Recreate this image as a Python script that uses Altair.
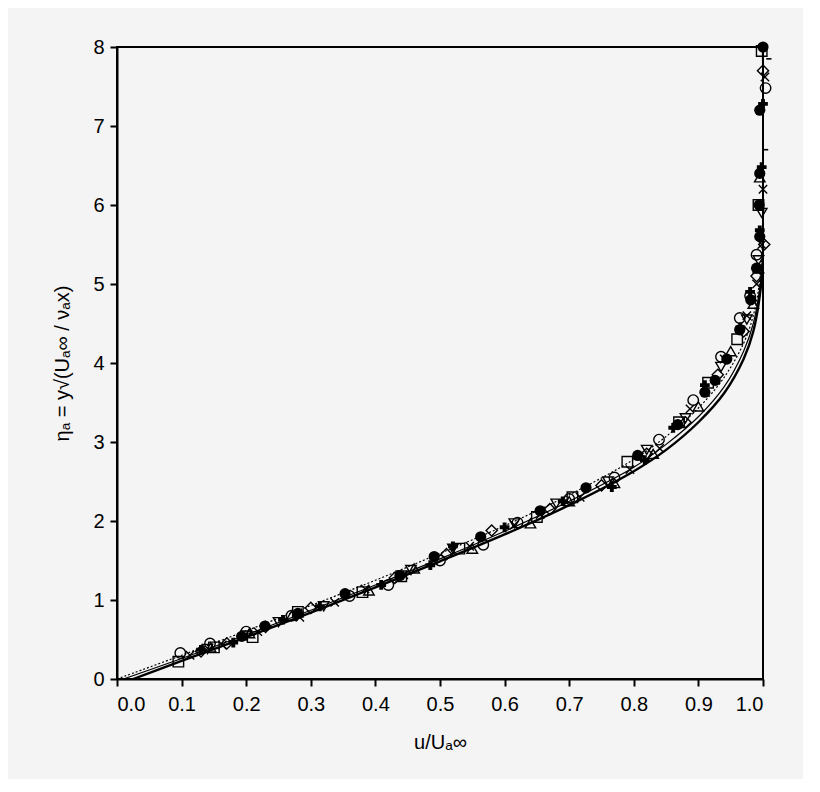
import altair as alt
import pandas as pd

# ---- curves (u/U, eta) ----
thick_u = [0.025, 0.1, 0.2, 0.3, 0.4, 0.5, 0.6, 0.7, 0.8, 0.85, 0.9, 0.94, 0.97, 0.985, 0.995, 1.0, 1.0]
thick_eta = [0, 0.23, 0.53, 0.84, 1.16, 1.49, 1.83, 2.2, 2.63, 2.9, 3.25, 3.62, 4.05, 4.4, 4.85, 5.3, 8.0]
thin_u = [0.01, 0.1, 0.2, 0.3, 0.4, 0.5, 0.6, 0.7, 0.8, 0.85, 0.9, 0.94, 0.97, 0.985, 0.995, 1.0]
thin_eta = [0, 0.26, 0.56, 0.87, 1.19, 1.52, 1.87, 2.25, 2.68, 2.97, 3.32, 3.7, 4.15, 4.5, 4.95, 5.4]
dot_u = [0, 0.1, 0.2, 0.3, 0.4, 0.5, 0.6, 0.7, 0.8, 0.85, 0.9, 0.94, 0.97, 0.985, 0.995, 1.0]
dot_eta = [0, 0.3, 0.61, 0.93, 1.25, 1.59, 1.94, 2.33, 2.78, 3.07, 3.43, 3.82, 4.25, 4.6, 5.05, 5.6]

# ---- measured points ----
fc_u = [1.0, 0.995, 0.995, 0.994, 0.995, 0.99, 0.981, 0.964, 0.944, 0.926, 0.91, 0.868, 0.806, 0.726, 0.655, 0.563, 0.491, 0.438, 0.353, 0.28, 0.229, 0.193]
fc_eta = [8.0, 7.2, 6.4, 6.0, 5.6, 5.2, 4.8, 4.42, 4.05, 3.78, 3.63, 3.22, 2.83, 2.42, 2.13, 1.8, 1.55, 1.31, 1.08, 0.83, 0.67, 0.54]
x_u = [1.003, 1.0, 0.998, 0.99, 0.975, 0.94, 0.887, 0.84, 0.794, 0.717, 0.655, 0.615, 0.546, 0.49, 0.444, 0.384, 0.337, 0.283, 0.218, 0.163, 0.113]
x_eta = [7.62, 6.2, 5.5, 5.0, 4.6, 4.05, 3.42, 2.92, 2.65, 2.3, 2.08, 1.95, 1.68, 1.5, 1.32, 1.14, 0.97, 0.78, 0.6, 0.43, 0.3]
oc_u = [1.004, 0.99, 0.98, 0.964, 0.935, 0.892, 0.839, 0.77, 0.7, 0.62, 0.567, 0.5, 0.42, 0.36, 0.27, 0.2, 0.144, 0.098]
oc_eta = [7.48, 5.37, 4.85, 4.57, 4.08, 3.53, 3.03, 2.55, 2.28, 1.98, 1.7, 1.5, 1.19, 1.05, 0.8, 0.6, 0.45, 0.33]
pl_u = [1.0, 0.998, 0.995, 0.98, 0.965, 0.91, 0.861, 0.817, 0.766, 0.69, 0.6, 0.52, 0.485, 0.409, 0.314, 0.257, 0.18, 0.13]
pl_eta = [7.28, 6.48, 5.68, 4.9, 4.45, 3.72, 3.18, 2.77, 2.43, 2.25, 1.92, 1.68, 1.44, 1.19, 0.92, 0.75, 0.46, 0.37]
sq_u = [0.998, 0.993, 0.96, 0.915, 0.87, 0.79, 0.705, 0.65, 0.53, 0.44, 0.38, 0.28, 0.21, 0.15, 0.095]
sq_eta = [7.95, 6.0, 4.3, 3.75, 3.25, 2.75, 2.3, 2.05, 1.65, 1.3, 1.1, 0.85, 0.53, 0.4, 0.22]
di_u = [1.0, 1.002, 0.99, 0.97, 0.93, 0.88, 0.82, 0.75, 0.67, 0.58, 0.51, 0.43, 0.3, 0.23, 0.17, 0.13]
di_eta = [7.7, 5.5, 5.1, 4.4, 3.85, 3.25, 2.85, 2.45, 2.15, 1.88, 1.58, 1.28, 0.9, 0.66, 0.45, 0.35]
tu_u = [0.995, 0.993, 0.985, 0.95, 0.9, 0.83, 0.77, 0.7, 0.64, 0.55, 0.46, 0.39, 0.27, 0.205, 0.145]
tu_eta = [6.35, 5.2, 4.75, 4.15, 3.45, 2.85, 2.48, 2.25, 1.97, 1.65, 1.4, 1.12, 0.8, 0.58, 0.4]
td_u = [0.998, 0.993, 0.975, 0.935, 0.88, 0.82, 0.76, 0.68, 0.615, 0.52, 0.455, 0.32, 0.25, 0.2, 0.14]
td_eta = [5.9, 5.3, 4.55, 3.95, 3.3, 2.9, 2.5, 2.22, 1.97, 1.65, 1.38, 0.92, 0.72, 0.55, 0.38]
da_u = [1.005, 1.0]
da_eta = [7.85, 6.7]

x_ticks = [0.0, 0.1, 0.2, 0.3, 0.4, 0.5, 0.6, 0.7, 0.8, 0.9, 1.0]
y_ticks = [0, 1, 2, 3, 4, 5, 6, 7, 8]

FONT = "Liberation Sans"

xs = alt.Scale(domain=[0, 1], nice=False, zero=False)
ys = alt.Scale(domain=[0, 8], nice=False)

x_axis = alt.Axis(values=x_ticks, format=".1f", title="u/Uₐ∞", grid=False,
                  domainWidth=2, domainColor="black", tickWidth=2, tickColor="black",
                  tickSize=7, labelFontSize=20, labelFont=FONT, labelColor="black",
                  labelPadding=8, titleFontSize=20, titleFont=FONT, titleFontWeight="normal",
                  titleColor="black", titlePadding=18)
y_axis = alt.Axis(values=y_ticks, format="d", title="ηₐ = y√(Uₐ∞ / νₐx)", grid=False,
                  domainWidth=2, domainColor="black", tickWidth=2, tickColor="black",
                  tickSize=7, labelFontSize=20, labelFont=FONT, labelColor="black",
                  labelPadding=6, titleFontSize=20, titleFont=FONT, titleFontWeight="normal",
                  titleColor="black", titlePadding=20)


def line_df(u, eta):
    return pd.DataFrame({"u": u, "eta": eta, "i": list(range(len(u)))})


def curve(u, eta, width, dash=None):
    kw = dict(color="black", strokeWidth=width, interpolate="catmull-rom", clip=True)
    if dash:
        kw["strokeDash"] = dash
    return alt.Chart(line_df(u, eta)).mark_line(**kw).encode(
        x=alt.X("u:Q", scale=xs, axis=x_axis),
        y=alt.Y("eta:Q", scale=ys, axis=y_axis),
        order="i:Q",
    )


def pts(u, eta, shape, filled, size, sw=1.4):
    df = pd.DataFrame({"u": u, "eta": eta})
    if filled:
        m = alt.Chart(df).mark_point(shape=shape, filled=True, color="black", size=size,
                                     opacity=1, clip=False)
    else:
        m = alt.Chart(df).mark_point(shape=shape, filled=False, stroke="black", size=size,
                                     strokeWidth=sw, opacity=1, clip=False)
    return m.encode(x=alt.X("u:Q", scale=xs, axis=x_axis), y=alt.Y("eta:Q", scale=ys, axis=y_axis))


XSHAPE = "M-1,-1L1,1M-1,1L1,-1"
DASH = "M0,0L1,0"

layers = [
    curve(dot_u, dot_eta, 1.2, [2, 2]),
    curve(thin_u, thin_eta, 1.2),
    curve(thick_u, thick_eta, 2.4),
    pts(oc_u, oc_eta, "circle", False, 110),
    pts(sq_u, sq_eta, "square", False, 110),
    pts(di_u, di_eta, "diamond", False, 125),
    pts(tu_u, tu_eta, "triangle-up", False, 110),
    pts(td_u, td_eta, "triangle-down", False, 110),
    pts(x_u, x_eta, XSHAPE, False, 70),
    pts(da_u, da_eta, DASH, False, 110, 1.6),
    pts(pl_u, pl_eta, "cross", True, 95),
    pts(fc_u, fc_eta, "circle", True, 125),
]

chart = alt.layer(*layers).properties(
    width=646, height=632,
    autosize=alt.AutoSizeParams(type="none"),
    padding={"left": 109, "top": 39, "right": 40, "bottom": 100},
    background="#f4f4f4",
).configure_view(stroke="black", strokeWidth=2, fill="#f4f4f4")

chart.save("out.html", embed_options={"renderer": "svg", "actions": False})
